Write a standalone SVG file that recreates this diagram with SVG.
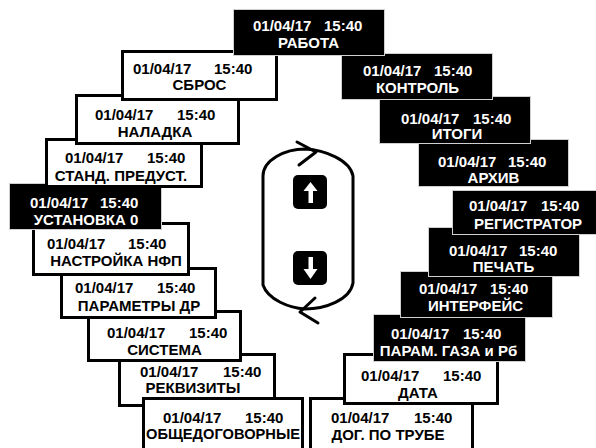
<svg xmlns="http://www.w3.org/2000/svg" width="596" height="448" viewBox="0 0 596 448">
<style>
text{font-family:"Liberation Sans",Arial,sans-serif;font-weight:bold;font-size:15px}
.w rect{fill:#fff;stroke:#000;stroke-width:3}
.w text{fill:#000}
.b rect{fill:#000;stroke:#cfcfcf;stroke-width:1}
.b text{fill:#fff}
.c{text-anchor:middle}
.loop{fill:none;stroke:#000;stroke-width:3;stroke-linecap:round;stroke-linejoin:round}
</style>
<rect width="596" height="448" fill="#fff"/>
<g id="connectors">
<path class="loop" d="M263,176 C263,160 285,149 305,149 C325,150 350,160 353,176 L353,283 C350,300 325,309 305,309 C290,308 268,300 263,285 Z"/>
<path class="loop" d="M297,142 L316,152 L299,165"/>
<path class="loop" d="M315,298 L300,312 L318,323"/>
</g>
<g id="btn-up"><rect x="293" y="175" width="34" height="34" rx="5" fill="#000"/><polygon points="310.5,182 303.5,191 317.5,191" fill="#fff"/><rect x="308.5" y="190" width="4.5" height="13" fill="#fff"/></g>
<g id="btn-down"><rect x="293" y="251" width="34" height="34" rx="5" fill="#000"/><rect x="308.5" y="257" width="4.5" height="13" fill="#fff"/><polygon points="303.5,269 317.5,269 310.5,279" fill="#fff"/></g>
<g id="n-rekvizity" class="w"><rect x="119.5" y="354.5" width="155" height="51"/><text x="140" y="377">01/04/17</text><text x="223" y="377">15:40</text><text class="c" x="193" y="393">РЕКВИЗИТЫ</text></g>
<g id="n-sistema" class="w"><rect x="88.5" y="311.5" width="152" height="49"/><text x="107" y="338">01/04/17</text><text x="189" y="338">15:40</text><text class="c" x="164.5" y="355">СИСТЕМА</text></g>
<g id="n-parametry-dr" class="w"><rect x="61.5" y="268.5" width="154" height="49"/><text x="75" y="293">01/04/17</text><text x="157" y="293">15:40</text><text class="c" x="139" y="311">ПАРАМЕТРЫ ДР</text></g>
<g id="n-nastroyka" class="w"><rect x="33.5" y="223.5" width="155" height="51"/><text x="47" y="249">01/04/17</text><text x="128" y="249">15:40</text><text class="c" x="116" y="266">НАСТРОЙКА НФП</text></g>
<g id="n-ustanovka" class="b"><rect x="9.5" y="183.5" width="152" height="46"/><text x="30" y="208">01/04/17</text><text x="100" y="208">15:40</text><text class="c" x="86" y="225">УСТАНОВКА 0</text></g>
<g id="n-stand" class="w"><rect x="46.5" y="139.5" width="155" height="47"/><text x="65" y="163">01/04/17</text><text x="147" y="163">15:40</text><text class="c" x="121" y="181">СТАНД. ПРЕДУСТ.</text></g>
<g id="n-naladka" class="w"><rect x="76.5" y="95.5" width="162" height="48"/><text x="95" y="120">01/04/17</text><text x="177" y="120">15:40</text><text class="c" x="155" y="137">НАЛАДКА</text></g>
<g id="n-sbros" class="w"><rect x="122.5" y="51.5" width="154" height="48"/><text x="133" y="74">01/04/17</text><text x="214" y="74">15:40</text><text class="c" x="199.5" y="90">СБРОС</text></g>
<g id="n-obshchedog" class="w"><rect x="143.5" y="398.5" width="159" height="60"/><text x="163" y="423">01/04/17</text><text x="245" y="423">15:40</text><text class="c" x="223" y="439" textLength="154" lengthAdjust="spacingAndGlyphs">ОБЩЕДОГОВОРНЫЕ</text></g>
<g id="n-dog" class="w"><rect x="310.5" y="398.5" width="162" height="60"/><text x="331" y="423">01/04/17</text><text x="414" y="423">15:40</text><text class="c" x="388" y="440">ДОГ. ПО ТРУБЕ</text></g>
<g id="n-data" class="w"><rect x="344.5" y="354.5" width="153" height="49"/><text x="361" y="381">01/04/17</text><text x="443" y="381">15:40</text><text class="c" x="418" y="398">ДАТА</text></g>
<g id="n-param-gaza" class="b"><rect x="373.5" y="314.5" width="152" height="47"/><text x="391" y="339">01/04/17</text><text x="463" y="339">15:40</text><text class="c" x="448.5" y="356">ПАРАМ. ГАЗА и Рб</text></g>
<g id="n-interfeys" class="b"><rect x="400.5" y="271.5" width="152" height="46"/><text x="419" y="294">01/04/17</text><text x="490" y="294">15:40</text><text class="c" x="475.5" y="311">ИНТЕРФЕЙС</text></g>
<g id="n-pechat" class="b"><rect x="428.5" y="227.5" width="151" height="49"/><text x="449" y="256">01/04/17</text><text x="519" y="256">15:40</text><text class="c" x="503.5" y="272">ПЕЧАТЬ</text></g>
<g id="n-registrator" class="b"><rect x="452.5" y="190.5" width="152" height="44"/><text x="469" y="211">01/04/17</text><text x="541" y="211">15:40</text><text class="c" x="528" y="229">РЕГИСТРАТОР</text></g>
<g id="n-arhiv" class="b"><rect x="418.5" y="139.5" width="150" height="47"/><text x="438" y="167">01/04/17</text><text x="508" y="167">15:40</text><text class="c" x="493.5" y="183">АРХИВ</text></g>
<g id="n-itogi" class="b"><rect x="379.5" y="96.5" width="151" height="47"/><text x="401" y="124">01/04/17</text><text x="473" y="124">15:40</text><text class="c" x="457" y="139">ИТОГИ</text></g>
<g id="n-kontrol" class="b"><rect x="341.5" y="53.5" width="151" height="46"/><text x="363" y="76">01/04/17</text><text x="434" y="76">15:40</text><text class="c" x="417.5" y="93">КОНТРОЛЬ</text></g>
<g id="n-rabota" class="b"><rect x="233.5" y="9.5" width="151" height="46"/><text x="253" y="31">01/04/17</text><text x="324" y="31">15:40</text><text class="c" x="308.5" y="48">РАБОТА</text></g>
</svg>
